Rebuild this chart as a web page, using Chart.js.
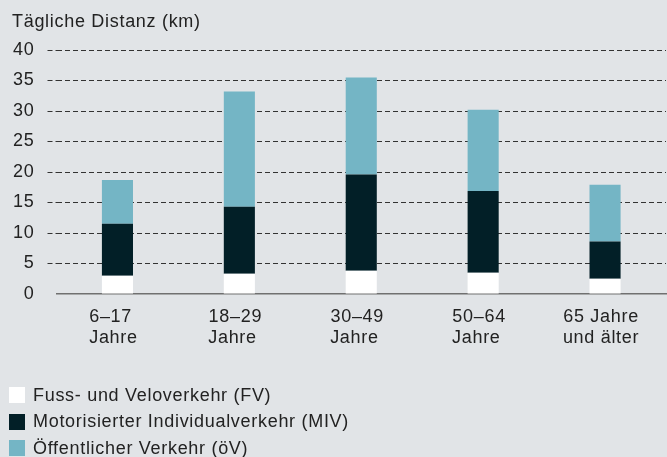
<!DOCTYPE html>
<html>
<head>
<meta charset="utf-8">
<script src="https://cdn.jsdelivr.net/npm/chart.js@4/dist/chart.umd.min.js"></script>
<style>
  html, body { margin: 0; padding: 0; background: #e1e4e7; }
  #wrap { position: relative; width: 667px; height: 457px; overflow: hidden; }
  canvas { position: absolute; left: 0; top: 0; }
  .leg { position: absolute; left: 9px; height: 16px; display: flex; align-items: center;
         font-family: "Liberation Sans", Arial, sans-serif; font-size: 18px; color: #222;
         letter-spacing: 0.7px; white-space: nowrap; }
  .leg span.box { display: inline-block; width: 16px; height: 16px; margin-right: 8px; }
</style>
</head>
<body>
<div id="wrap">
  <canvas id="c" width="667" height="457"></canvas>
  <div id="legend"></div>
</div>
<script>
const categories = [["6–17 ", "Jahre"], ["18–29", "Jahre "], ["30–49", "Jahre "], ["50–64", "Jahre "], ["65 Jahre", "und älter"]];
const seriesNames = ["Fuss- und Veloverkehr (FV)", "Motorisierter Individualverkehr (MIV)", "Öffentlicher Verkehr (öV)"];
const fvValues  = [3.0, 3.3, 3.8, 3.5, 2.5];
const mivValues = [8.5, 11.0, 15.8, 13.4, 6.1];
const ovValues  = [7.2, 18.9, 15.9, 13.3, 9.3];
const yTicks = [0, 5, 10, 15, 20, 25, 30, 35, 40];
const yTitle = "Tägliche Distanz (km)";
const colors = ["#ffffff", "#021f27", "#74b5c5"];

const FONT = "'Liberation Sans', Arial, sans-serif";

const spacingPlugin = {
  id: 'spacing',
  beforeDraw(chart) { chart.ctx.letterSpacing = '0.7px'; }
};

new Chart(document.getElementById('c'), {
  type: 'bar',
  data: {
    labels: categories,
    datasets: [
      { label: seriesNames[0], data: fvValues, backgroundColor: colors[0] },
      { label: seriesNames[1], data: mivValues, backgroundColor: colors[1] },
      { label: seriesNames[2], data: ovValues, backgroundColor: colors[2] }
    ]
  },
  plugins: [spacingPlugin],
  options: {
    responsive: false,
    animation: false,
    devicePixelRatio: 1,
    layout: { padding: { left: 12, right: 1, top: 0, bottom: 103 } },
    datasets: { bar: { categoryPercentage: 1, barPercentage: 0.255, borderWidth: 0 } },
    plugins: {
      legend: { display: false },
      tooltip: { enabled: false },
      title: {
        display: true, text: yTitle, align: 'start', color: '#222',
        font: { family: FONT, size: 18, weight: 'normal', lineHeight: 1.2 },
        padding: { top: 11.2, bottom: 17.2 }
      }
    },
    scales: {
      x: {
        stacked: true,
        grid: { display: false, drawTicks: false },
        border: { display: true, color: '#707070', width: 1.5 },
        ticks: { color: '#222', padding: 12, labelOffset: -4, font: { family: FONT, size: 18, lineHeight: 1.2 }, maxRotation: 0, autoSkip: false },
        afterFit(s) { s.height = 60; }
      },
      y: {
        stacked: true, min: 0, max: 40,
        afterBuildTicks(s) { s.ticks = yTicks.map(v => ({ value: v })); },
        border: { display: false, dash: [5, 3] },
        grid: {
          color: ctx => ctx.tick && ctx.tick.value === 0 ? 'rgba(0,0,0,0)' : '#333',
          tickColor: ctx => ctx.tick && ctx.tick.value === 0 ? 'rgba(0,0,0,0)' : '#333',
          lineWidth: 1, tickBorderDash: [5, 3], tickLength: 9, drawTicks: true
        },
        ticks: { color: '#222', padding: 13, font: { family: FONT, size: 18 } },
        afterFit(s) { s.width = 44.5; }
      }
    }
  }
});

const legendEl = document.getElementById('legend');
const legTops = [387, 413.5, 440];
seriesNames.forEach((name, i) => {
  const d = document.createElement('div');
  d.className = 'leg';
  d.style.top = legTops[i] + 'px';
  const b = document.createElement('span');
  b.className = 'box';
  b.style.background = colors[i];
  const t = document.createElement('span');
  t.textContent = name;
  d.appendChild(b); d.appendChild(t);
  legendEl.appendChild(d);
});
</script>
</body>
</html>
